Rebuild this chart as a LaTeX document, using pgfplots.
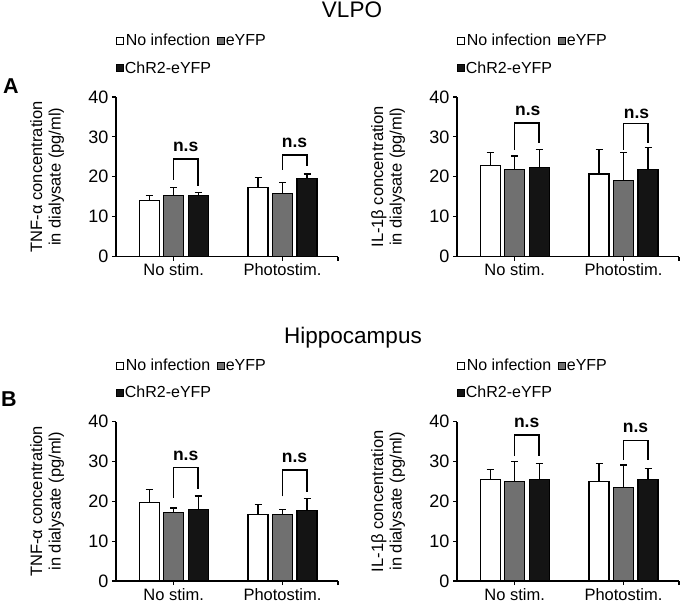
\documentclass[border=0pt]{standalone}
\usepackage{fontspec}
\setmainfont{Liberation Sans}
\usepackage{pgfplots}
\pgfplotsset{compat=1.18}
\newcommand\fs[2]{\fontsize{#1}{#2}\selectfont}
\definecolor{gbar}{RGB}{112,112,112}
\definecolor{kbar}{RGB}{20,20,20}
\tikzset{brk/.style={line width=1.5pt, black}}
\pgfplotsset{
  panel/.style={
    scale only axis, width=222pt, height=159.5pt,
    xmin=-0.53, xmax=1.51, ymin=0, ymax=40,
    axis lines=left, axis line style={-, line width=1.2pt},
    xtick={0,1}, xticklabels={No stim., Photostim.},
    extra x ticks={1.51}, extra x tick labels={},
    ytick={0,10,20,30,40},
    tick align=outside, major tick length=4pt,
    tick style={black, line width=1.2pt},
    ybar=4.5pt, bar width=20pt,
    clip=false,
    xticklabel style={font=\fs{16.5}{19}},
    yticklabel style={font=\fs{18}{21}},
    /pgf/number format/assume math mode=true,
    ylabel style={align=center, font=\fs{16.5}{18.5}, at={(axis description cs:-0.31,0.5)}, anchor=center},
    legend columns=2,
    legend style={draw=none, fill=none, at={(axis description cs:0,1.40)}, anchor=north west,
      inner sep=0pt, row sep=12pt, font=\fs{16}{19}, nodes={inner sep=1pt},
      /tikz/every even column/.append style={column sep=5pt}},
    legend entries={No infection, eYFP, ChR2-eYFP},
  },
  limg/.style={legend image code/.code={\draw[##1, line width=0.7pt] (0pt,-3.5pt) rectangle (7pt,3.5pt);}},
  errs/.style={error bars/.cd, y dir=plus, y explicit,
    error bar style={line width=1.2pt, black},
    error mark options={rotate=90, mark size=3.5pt, line width=1.2pt, black}},
  s1/.style={fill=white, draw=black, line width=1.2pt, limg, errs},
  s2/.style={fill=gbar, draw=black, line width=1.2pt, limg, errs},
  s3/.style={fill=kbar, draw=black, line width=1.2pt, limg, errs},
}
\newcommand\ns[2]{\node[font=\bfseries\fs{17.5}{20}] at (axis cs:#1,#2) {n.s};}
\begin{document}
\begin{tikzpicture}
\path[use as bounding box] (0pt,0pt) rectangle (682pt,-609pt);
\node[font=\fs{22.5}{26}, anchor=base, inner sep=0pt] at (352pt,-17.5pt) {VLPO};
\node[font=\fs{22.5}{26}, anchor=base, inner sep=0pt] at (353pt,-343pt) {Hippocampus};
\node[font=\bfseries\fs{21.5}{25}, anchor=base west, inner sep=0pt] at (3pt,-94pt) {A};
\node[font=\bfseries\fs{21.5}{25}, anchor=base west, inner sep=0pt] at (1pt,-406.5pt) {B};

% A left: TNF-alpha VLPO
\begin{axis}[panel, at={(116pt,-256.5pt)}, anchor=south west,
  ylabel={TNF-α concentration\\in dialysate (pg/ml)}]
\addplot[s1] coordinates {(0,14.1) +- (0,1.15) (1,17.3) +- (0,2.45)};
\addplot[s2] coordinates {(0,15.25) +- (0,2.0) (1,15.7) +- (0,2.9)};
\addplot[s3] coordinates {(0,15.25) +- (0,0.85) (1,19.5) +- (0,1.2)};
\draw[brk] (axis cs:0,19.3) -- (axis cs:0,24.4) -- (axis cs:0.225,24.4) -- (axis cs:0.225,17.7);
\draw[brk] (axis cs:1,21.7) -- (axis cs:1,25.4) -- (axis cs:1.225,25.4) -- (axis cs:1.225,22.7);
\ns{0.11}{27.5}
\ns{1.11}{28.5}
\end{axis}

% A right: IL-1beta VLPO
\begin{axis}[panel, at={(457pt,-256.5pt)}, anchor=south west,
  ylabel={IL-1β concentration\\in dialysate (pg/ml)}]
\addplot[s1] coordinates {(0,22.75) +- (0,3.35) (1,20.7) +- (0,6.1)};
\addplot[s2] coordinates {(0,21.9) +- (0,3.3) (1,19.1) +- (0,7.0)};
\addplot[s3] coordinates {(0,22.4) +- (0,4.4) (1,21.9) +- (0,5.35)};
\draw[brk] (axis cs:0,26.8) -- (axis cs:0,33.5) -- (axis cs:0.225,33.5) -- (axis cs:0.225,28.5);
\draw[brk] (axis cs:1,26.8) -- (axis cs:1,33.3) -- (axis cs:1.225,33.3) -- (axis cs:1.225,28.5);
\ns{0.12}{36.5}
\ns{1.12}{35.8}
\end{axis}

% B left: TNF-alpha Hippocampus
\begin{axis}[panel, at={(116pt,-581pt)}, anchor=south west,
  ylabel={TNF-α concentration\\in dialysate (pg/ml)}]
\addplot[s1] coordinates {(0,19.6) +- (0,3.3) (1,16.7) +- (0,2.5)};
\addplot[s2] coordinates {(0,17.1) +- (0,1.2) (1,16.7) +- (0,1.2)};
\addplot[s3] coordinates {(0,18.0) +- (0,3.3) (1,17.6) +- (0,3.1)};
\draw[brk] (axis cs:0,20.9) -- (axis cs:0,28.5) -- (axis cs:0.225,28.5) -- (axis cs:0.225,23.1);
\draw[brk] (axis cs:1,21.2) -- (axis cs:1,27.8) -- (axis cs:1.225,27.8) -- (axis cs:1.225,22.4);
\ns{0.11}{31.3}
\ns{1.11}{30.8}
\end{axis}

% B right: IL-1beta Hippocampus
\begin{axis}[panel, at={(457pt,-581pt)}, anchor=south west,
  ylabel={IL-1β concentration\\in dialysate (pg/ml)}]
\addplot[s1] coordinates {(0,25.4) +- (0,2.5) (1,25.0) +- (0,4.5)};
\addplot[s2] coordinates {(0,25.0) +- (0,4.9) (1,23.4) +- (0,5.7)};
\addplot[s3] coordinates {(0,25.4) +- (0,4.1) (1,25.4) +- (0,2.9)};
\draw[brk] (axis cs:0,31.3) -- (axis cs:0,36.6) -- (axis cs:0.225,36.6) -- (axis cs:0.225,31.4);
\draw[brk] (axis cs:1,30.3) -- (axis cs:1,35.2) -- (axis cs:1.225,35.2) -- (axis cs:1.225,30.3);
\ns{0.11}{39.7}
\ns{1.11}{38.4}
\end{axis}
\end{tikzpicture}
\end{document}
